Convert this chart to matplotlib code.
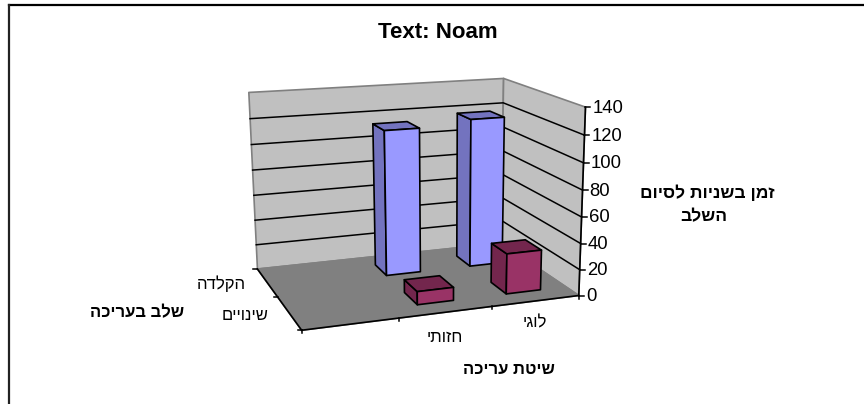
import numpy as np
import matplotlib
matplotlib.use('Agg')
import matplotlib.pyplot as plt
from matplotlib.patches import Polygon

plt.rcParams['font.family'] = ['Liberation Sans', 'DejaVu Sans']

title = 'Text: Noam'
# first category has no label and no bars in the original
methods = ['', 'חזותי', 'לוגי']
stages = ['הקלדה', 'שינויים']
typing_times = [0, 114, 118]
change_times = [0, 10, 31]
z_ticks = [0, 20, 40, 60, 80, 100, 120, 140]
z_title = ['זמן בשניות לסיום', 'השלב']
method_title = 'שיטת עריכה'
stage_title = 'שלב בעריכה'

ZMAX = 140.0
BLUE = '#9999ff'
PURPLE = '#993366'


def rtl(s):
    # matplotlib has no bidi, so hebrew has to go in visual order
    return s[::-1]


# box corners on screen: (u along methods, v back to front, z value) -> pixel
anchors = [
    ((0, 0, 0), (257, 267)),
    ((3, 0, 0), (502, 245)),
    ((3, 2, 0), (578, 294)),
    ((0, 2, 0), (302, 332)),
    ((0, 0, 140), (249, 93)),
    ((3, 0, 140), (503, 78)),
    ((3, 2, 140), (586, 107)),
]
rows = []
rhs = []
for (u, v, z), (px, py) in anchors:
    w = z / ZMAX
    rows.append([u, v, w, 1, 0, 0, 0, 0, -px * u, -px * v, -px * w])
    rhs.append(px)
    rows.append([0, 0, 0, 0, u, v, w, 1, -py * u, -py * v, -py * w])
    rhs.append(py)
sol = np.linalg.lstsq(np.array(rows, float), np.array(rhs, float), rcond=None)[0]
P = np.append(sol, 1.0).reshape(3, 4)


def proj(u, v, z):
    h = P @ np.array([u, v, z / ZMAX, 1.0])
    return h[0] / h[2], h[1] / h[2]


fig = plt.figure(figsize=(8.64, 4.04), dpi=100)
ax = fig.add_axes([0, 0, 1, 1])
ax.set_xlim(0, 864)
ax.set_ylim(404, 0)
ax.axis('off')

# outer frame, only top and left are visible
ax.plot([8.5, 864], [4.5, 4.5], color='black', lw=1.6, zorder=1)
ax.plot([8.5, 8.5], [4.5, 404], color='#222222', lw=1.6, zorder=1)


def face(pts, color, edge='black', lw=1.2, z=2):
    ax.add_patch(Polygon([proj(*p) for p in pts], closed=True, fc=color, ec=edge,
                         lw=lw, joinstyle='round', zorder=z))


# walls and floor
face([(0, 0, 0), (3, 0, 0), (3, 0, 140), (0, 0, 140)], '#c0c0c0', '#808080')
face([(3, 0, 0), (3, 2, 0), (3, 2, 140), (3, 0, 140)], '#c0c0c0', '#808080')
face([(0, 0, 0), (3, 0, 0), (3, 2, 0), (0, 2, 0)], '#808080', '#808080')

for t in z_ticks[1:-1]:
    a, b, c = proj(0, 0, t), proj(3, 0, t), proj(3, 2, t)
    ax.plot([a[0], b[0], c[0]], [a[1], b[1], c[1]], color='black', lw=1.1, zorder=3)

# axis lines and ticks
a, b = proj(0, 2, 0), proj(3, 2, 0)
ax.plot([a[0], b[0]], [a[1], b[1]], color='black', lw=1.2, zorder=3)
a, b = proj(0, 0, 0), proj(0, 2, 0)
ax.plot([a[0], b[0]], [a[1], b[1]], color='black', lw=1.2, zorder=3)
a, b = proj(3, 2, 0), proj(3, 2, 140)
ax.plot([a[0], b[0]], [a[1], b[1]], color='black', lw=1.2, zorder=3)

for t in z_ticks:
    x, y = proj(3, 2, t)
    ax.plot([x, x + 5], [y, y], color='black', lw=1.1, zorder=3)
    ax.text(x + 7, y + 1, str(t), fontsize=13.3, ha='left', va='center', color='black')
for u in range(len(methods) + 1):
    x, y = proj(u, 2, 0)
    ax.plot([x, x], [y, y + 3], color='black', lw=1.1, zorder=3)
for v in range(len(stages) + 1):
    x, y = proj(0, v, 0)
    ax.plot([x, x - 4], [y, y], color='black', lw=1.1, zorder=3)


def darker(color, f):
    rgb = np.array(matplotlib.colors.to_rgb(color)) * f
    return tuple(rgb)


def bar(col, row, value, color):
    w = 0.2
    u0, u1 = col + 0.5 - w, col + 0.5 + w
    v0, v1 = row + 0.5 - w, row + 0.5 + w
    # left side, top, then front
    face([(u0, v0, 0), (u0, v1, 0), (u0, v1, value), (u0, v0, value)], darker(color, 0.75), z=5 + row)
    face([(u0, v0, value), (u1, v0, value), (u1, v1, value), (u0, v1, value)], darker(color, 0.75), z=5 + row)
    face([(u0, v1, 0), (u1, v1, 0), (u1, v1, value), (u0, v1, value)], color, z=5 + row)


for i in range(len(methods)):
    if typing_times[i] > 0:
        bar(i, 0, typing_times[i], BLUE)
for i in range(len(methods)):
    if change_times[i] > 0:
        bar(i, 1, change_times[i], PURPLE)

# category labels
ax.text(445, 337, rtl(methods[1]), fontsize=12, ha='center', va='center', color='black')
ax.text(535, 323, rtl(methods[2]), fontsize=12, ha='center', va='center', color='black')
ax.text(221, 284, rtl(stages[0]), fontsize=12, ha='center', va='center', color='black')
ax.text(245, 316, rtl(stages[1]), fontsize=12, ha='center', va='center', color='black')

ax.text(438, 32, title, fontsize=16, fontweight='bold', ha='center', va='center')
ax.text(509, 370, rtl(method_title), fontsize=12, fontweight='bold', ha='center', va='center')
ax.text(137.5, 313, rtl(stage_title), fontsize=12, fontweight='bold', ha='center', va='center')
ax.text(707, 193, rtl(z_title[0]), fontsize=12.5, fontweight='bold', ha='center', va='center')
ax.text(703.5, 217, rtl(z_title[1]), fontsize=12.5, fontweight='bold', ha='center', va='center')

fig.savefig('out.png', dpi=100)
